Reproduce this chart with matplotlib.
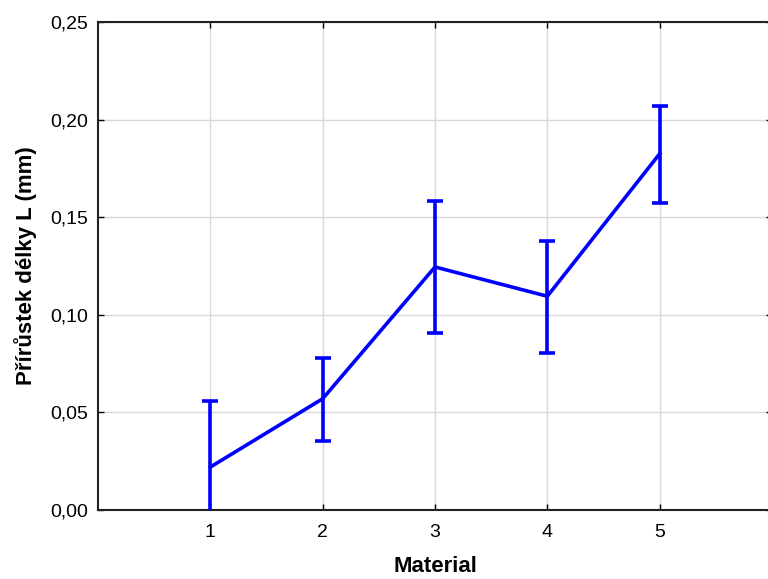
#!/usr/bin/env python3
import numpy as np
import matplotlib
matplotlib.use('Agg')
from matplotlib import pyplot as plt
from matplotlib.ticker import FuncFormatter

# data
material = [1, 2, 3, 4, 5]
mean = [0.022, 0.057, 0.1245, 0.1095, 0.1825]
upper = [0.0558, 0.0779, 0.1583, 0.1378, 0.2068]
lower = [-0.012, 0.0353, 0.0907, 0.0804, 0.1573]

mean = np.asarray(mean)
yerr = [mean - np.asarray(lower), np.asarray(upper) - mean]

plt.rcParams['font.family'] = ['Liberation Sans', 'DejaVu Sans']

fig = plt.figure(figsize=(7.68, 5.79), dpi=100)
ax = fig.add_axes([98/768, 1 - 510/579, 674/768, 488/579])

ax.errorbar(material, mean, yerr=yerr, color='#0000ff', lw=2.6,
            capsize=5.5, capthick=2.6, elinewidth=2.6, zorder=3, clip_on=True)

ax.set_xlim(0, 6)
ax.set_ylim(0, 0.25)
ax.set_xticks(material)
ax.set_yticks(np.arange(0, 0.26, 0.05))
ax.yaxis.set_major_formatter(FuncFormatter(lambda v, p: ('%.2f' % v).replace('.', ',')))
ax.grid(True, color='#d9d9d9', lw=1)
ax.set_axisbelow(True)
ax.tick_params(direction='in', length=4, width=1, top=True, right=True,
               labelsize=14, colors='black')
ax.tick_params(axis='x', pad=10)
ax.tick_params(axis='y', pad=7)
for s in ax.spines.values():
    s.set_linewidth(1.5)
    s.set_color('#222222')

ax.set_xlabel('Material', fontsize=16, fontweight='bold', labelpad=11)
ax.set_ylabel('Přírůstek délky L (mm)', fontsize=16, fontweight='bold', labelpad=10)

fig.savefig('out.png', dpi=100)
